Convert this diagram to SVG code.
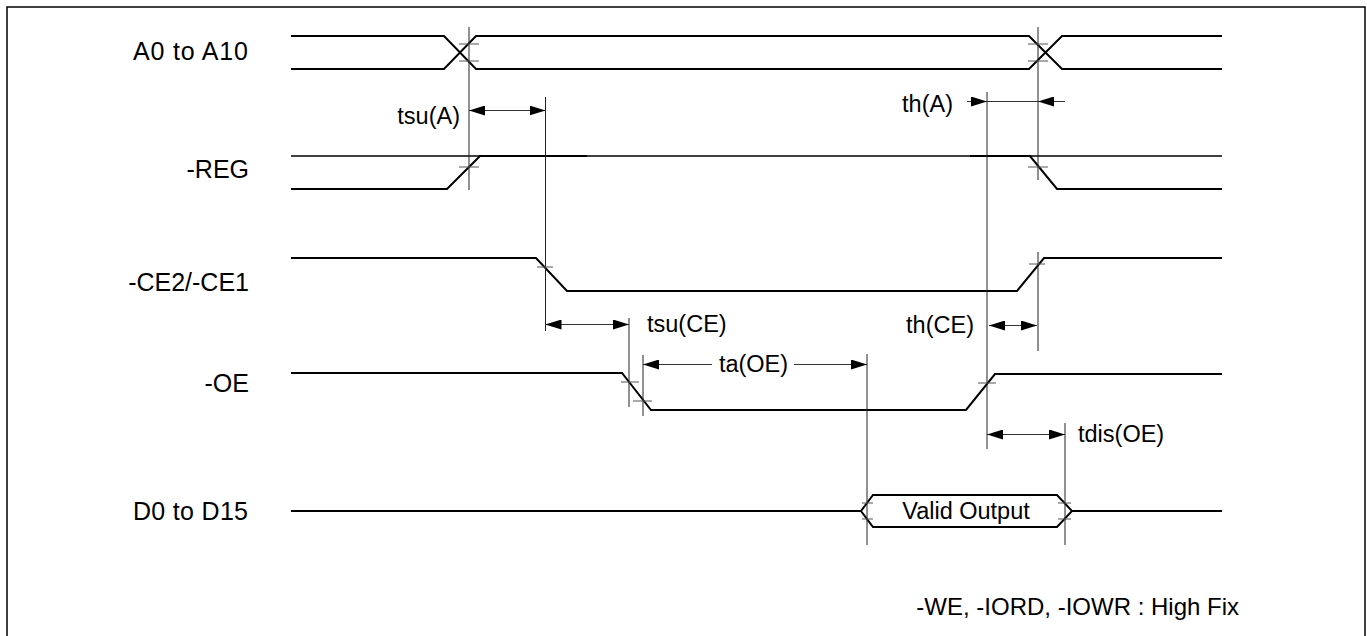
<svg xmlns="http://www.w3.org/2000/svg" width="1367" height="636" viewBox="0 0 1367 636">
<style>
.sig{fill:none;stroke:#000;stroke-width:2}
.ref{fill:none;stroke:#222;stroke-width:1}
.tick{fill:none;stroke:#555;stroke-width:1}
.dim{fill:none;stroke:#333;stroke-width:1}
.lbl{font-family:"Liberation Sans",Arial,sans-serif;font-size:23.5px;fill:#000}
.row{font-size:25px}
</style>
<defs>
<marker id="ah" markerUnits="userSpaceOnUse" markerWidth="16" markerHeight="10" refX="16" refY="5" orient="auto-start-reverse">
<path d="M0,0 L16,5 L0,10 z" fill="#000"/>
</marker>
</defs>
<rect x="7" y="7" width="1358" height="660" fill="#fff" stroke="#000" stroke-width="1.5"/>

<g id="labels">
<text class="lbl row" x="133" y="60" textLength="115" lengthAdjust="spacing">A0 to A10</text>
<text class="lbl row" x="249" y="178" text-anchor="end">-REG</text>
<text class="lbl row" x="249" y="291" text-anchor="end">-CE2/-CE1</text>
<text class="lbl row" x="249" y="392" text-anchor="end">-OE</text>
<text class="lbl row" x="133" y="520" textLength="115" lengthAdjust="spacing">D0 to D15</text>
<text class="lbl" x="1239" y="615" text-anchor="end" style="font-size:24px">-WE, -IORD, -IOWR : High Fix</text>
</g>

<g id="sig-A">
<polyline class="sig" points="291,36 444,36 476,69 1029,69 1062,36 1222,36"/>
<polyline class="sig" points="291,69 444,69 476,36 1029,36 1062,69 1222,69"/>
</g>
<g id="sig-REG">
<line class="sig" x1="291" y1="156" x2="1222" y2="156" style="stroke-width:1.5"/>
<polyline class="sig" points="291,189 447,189 480,156 587,156"/>
<polyline class="sig" points="970,156 1030,156 1057,189 1222,189"/>
</g>
<g id="sig-CE">
<polyline class="sig" points="291,258 536,258 567,291 1017,291 1044,258 1222,258"/>
</g>
<g id="sig-OE">
<polyline class="sig" points="291,373 622,373 651,410 966,410 995,374 1222,374"/>
</g>
<g id="sig-D">
<line class="sig" x1="291" y1="511" x2="861" y2="511"/>
<polygon class="sig" points="861,511 873,495 1057,495 1072,511 1057,527 873,527"/>
<line class="sig" x1="1072" y1="511" x2="1222" y2="511"/>
<text class="lbl" x="966" y="519" text-anchor="middle">Valid Output</text>
</g>

<g id="connectors">
<line class="ref" x1="469" y1="27" x2="469" y2="190"/>
<line class="ref" x1="1038" y1="27" x2="1038" y2="180"/>
<line class="ref" x1="545.5" y1="97" x2="545.5" y2="331"/>
<line class="ref" x1="987" y1="92" x2="987" y2="449"/>
<line class="ref" x1="1038" y1="252" x2="1038" y2="351"/>
<line class="ref" x1="629" y1="318" x2="629" y2="407"/>
<line class="ref" x1="643" y1="355" x2="643" y2="416"/>
<line class="ref" x1="867" y1="354" x2="867" y2="545"/>
<line class="ref" x1="1065" y1="423" x2="1065" y2="545"/>
<path class="tick" d="M459,44 h20 M459,61 h20 M1028,44 h20 M1028,61 h20 M459,167 h20 M1028,167 h20 M537,267 h16 M1029,264 h16 M621,382 h18 M633,401 h19 M978,383 h18 M862,503 h11 M862,519 h11 M1058,503 h13 M1058,519 h13"/>
<line class="dim" x1="469" y1="110.5" x2="545.5" y2="110.5" marker-start="url(#ah)" marker-end="url(#ah)"/>
<text class="lbl" x="460" y="124" text-anchor="end">tsu(A)</text>
<line class="dim" x1="967" y1="101.5" x2="1065" y2="101.5"/>
<line class="dim" x1="968" y1="101.5" x2="987" y2="101.5" marker-end="url(#ah)"/>
<line class="dim" x1="1058" y1="101.5" x2="1038" y2="101.5" marker-end="url(#ah)"/>
<text class="lbl" x="953" y="112" text-anchor="end">th(A)</text>
<line class="dim" x1="545.5" y1="324.5" x2="629" y2="324.5" marker-start="url(#ah)" marker-end="url(#ah)"/>
<text class="lbl" x="647" y="332">tsu(CE)</text>
<line class="dim" x1="989" y1="325.5" x2="1037" y2="325.5" marker-start="url(#ah)" marker-end="url(#ah)"/>
<text class="lbl" x="974" y="333" text-anchor="end">th(CE)</text>
<line class="dim" x1="643" y1="364.5" x2="712" y2="364.5" marker-start="url(#ah)"/>
<line class="dim" x1="794" y1="364.5" x2="867" y2="364.5" marker-end="url(#ah)"/>
<text class="lbl" x="753.5" y="372" text-anchor="middle">ta(OE)</text>
<line class="dim" x1="987" y1="434.5" x2="1065" y2="434.5" marker-start="url(#ah)" marker-end="url(#ah)"/>
<text class="lbl" x="1078" y="442">tdis(OE)</text>
</g>
</svg>
